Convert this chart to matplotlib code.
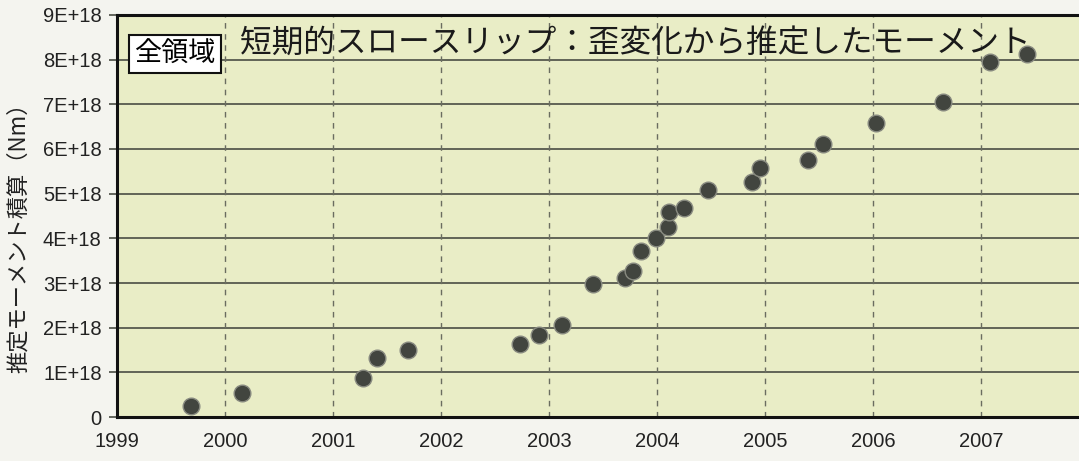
import matplotlib
matplotlib.use("Agg")
import matplotlib.pyplot as plt

plt.rcParams['font.family'] = ['Liberation Sans', 'Noto Sans CJK JP', 'DejaVu Sans']

# cumulative moment (x1e18 Nm)
years = [1999.69, 2000.16, 2001.28, 2001.41, 2001.69, 2002.73, 2002.91, 2003.12,
         2003.41, 2003.70, 2003.78, 2003.85, 2003.99, 2004.10, 2004.11, 2004.25,
         2004.47, 2004.88, 2004.95, 2005.40, 2005.54, 2006.03, 2006.65, 2007.08, 2007.43]
moment = [0.25, 0.53, 0.87, 1.33, 1.51, 1.63, 1.83, 2.06,
          2.97, 3.12, 3.27, 3.72, 4.00, 4.26, 4.59, 4.69,
          5.08, 5.25, 5.58, 5.75, 6.12, 6.58, 7.05, 7.95, 8.12]
moment = [m * 1e18 for m in moment]

year_ticks = [1999, 2000, 2001, 2002, 2003, 2004, 2005, 2006, 2007]
y_ticks = [i * 1e18 for i in range(10)]
y_labels = ['0'] + ['%dE+18' % i for i in range(1, 10)]

cjk = ['Noto Sans CJK JP', 'DejaVu Sans']

fig = plt.figure(figsize=(10.79, 4.61), dpi=100)
fig.patch.set_facecolor('#f4f4ef')
ax = fig.add_axes([0.1084, 0.0954, 0.8916, 0.8721])
ax.set_facecolor('#e9edc6')

ax.set_xlim(1999, 2007.907)
ax.set_ylim(0, 9e18)

# grid: solid horizontal, dashed vertical
for v in y_ticks[1:]:
    ax.axhline(v, color='#4a4d44', lw=1.2, zorder=1)
for yr in year_ticks[1:]:
    ax.axvline(yr, color='#6a6d60', lw=1.0, ls=(0, (4, 4)), zorder=1)

ax.plot(years, moment, 'o', ms=12, mfc='#42453f', mec='#888a80', mew=1.0, zorder=3)

ax.set_xticks(year_ticks)
ax.set_xticklabels([str(y) for y in year_ticks], fontsize=14.5, color='#222222')
ax.set_yticks(y_ticks)
ax.set_yticklabels(y_labels, fontsize=14.5, color='#222222')
ax.tick_params(axis='x', length=0, pad=11)
ax.tick_params(axis='y', length=6, width=1.2, color='#4a4d44', pad=5)

for s in ['left', 'bottom', 'top']:
    ax.spines[s].set_linewidth(2.2)
    ax.spines[s].set_color('#111111')
ax.spines['right'].set_visible(False)

fig.text(18 / 1079, 1 - 232 / 461, '推定モーメント積算（Nm）', rotation=90,
         fontsize=16, family=cjk, ha='center', va='center', color='#222222')

ax.text(0.0605, 0.903, '全領域', transform=ax.transAxes, fontsize=19.5,
        family=cjk, ha='center', va='center',
        bbox=dict(boxstyle='square,pad=0.2', fc='white', ec='#111111', lw=1.5), zorder=5)
ax.text(0.1275, 0.932, '短期的スロースリップ：歪変化から推定したモーメント',
        transform=ax.transAxes, fontsize=22.8,
        family=cjk, ha='left', va='center', color='#1a1a1a', zorder=5)

fig.savefig('out.png', dpi=100, facecolor=fig.get_facecolor())
